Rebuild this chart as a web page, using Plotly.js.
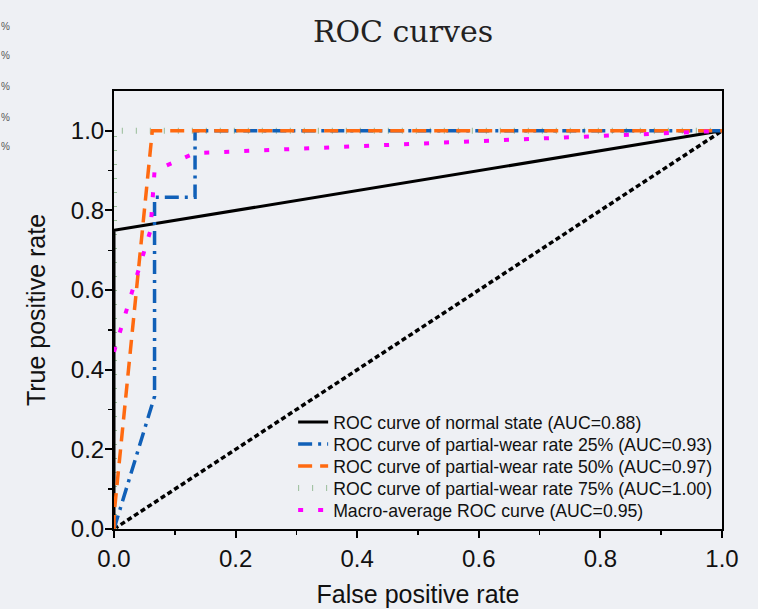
<!DOCTYPE html>
<html>
<head>
<meta charset="utf-8">
<script src="https://cdn.plot.ly/plotly-3.0.1.min.js"></script>
<style>html,body{margin:0;padding:0;background:#eef0f4;}#chart{width:758px;height:609px;}</style>
</head>
<body>
<div id="chart"></div>
<script>
// Data
const normalX = [0, 0, 1];
const normalY = [0, 0.75, 1];
const wear25X = [0, 0.0667, 0.0667, 0.1333, 0.1333, 1];
const wear25Y = [0, 0.333, 0.833, 0.833, 1, 1];
const wear50X = [0, 0, 0.063, 1];
const wear50Y = [0, 0.035, 1, 1];
const wear75X = [0, 0, 1];
const wear75Y = [0, 1, 1];
const macroX = [0, 0.06, 0.0667, 0.1333, 1];
const macroY = [0.445, 0.75, 0.9, 0.944, 1];
const chanceX = [0, 1];
const chanceY = [0, 1];
const seriesNames = [
  'ROC curve of normal state (AUC=0.88)',
  'ROC curve of partial-wear rate 25% (AUC=0.93)',
  'ROC curve of partial-wear rate 50% (AUC=0.97)',
  'ROC curve of partial-wear rate 75% (AUC=1.00)',
  'Macro-average ROC curve (AUC=0.95)'
];
const tickVals = [0, 0.2, 0.4, 0.6, 0.8, 1.0];
const tickText = ['0.0', '0.2', '0.4', '0.6', '0.8', '1.0'];
const minorVals = [0.1, 0.3, 0.5, 0.7, 0.9];

const traces = [
  {x: chanceX, y: chanceY, mode: 'lines', showlegend: false, hoverinfo: 'skip',
   line: {color: '#000000', width: 3.5, dash: '5px,3px'}},
  {x: wear75X, y: wear75Y, mode: 'lines', name: seriesNames[3], legendrank: 4,
   line: {color: '#98bc98', width: 6, dash: '1px,13px'}},
  {x: normalX, y: normalY, mode: 'lines', name: seriesNames[0], legendrank: 1,
   line: {color: '#000000', width: 3}},
  {x: wear25X, y: wear25Y, mode: 'lines', name: seriesNames[1], legendrank: 2,
   line: {color: '#1060b8', width: 3.5, dash: '14px,6px,3px,6px'}},
  {x: wear50X, y: wear50Y, mode: 'lines', name: seriesNames[2], legendrank: 3,
   line: {color: '#ff6a10', width: 3.5, dash: '14px,8px'}},
  {x: macroX, y: macroY, mode: 'lines', name: seriesNames[4], legendrank: 5,
   line: {color: '#ff00ff', width: 4, dash: '5px,15px'}}
];

const axisFont = {family: 'Liberation Sans, Arial, sans-serif', size: 24, color: '#111'};
const titleFont = {family: 'Liberation Sans, Arial, sans-serif', size: 25, color: '#111'};

const strayAnn = [27, 56, 87, 117, 146].map(function (py) {
  return {xref: 'paper', yref: 'paper', x: (5 - 114) / 608, y: (528 - py) / 437,
          text: '%', showarrow: false, xanchor: 'center', yanchor: 'middle',
          font: {family: 'Liberation Sans, Arial, sans-serif', size: 10, color: '#555'}};
});

const layout = {
  width: 758, height: 609,
  paper_bgcolor: '#eef0f4', plot_bgcolor: '#eef0f4',
  margin: {l: 114, r: 36, t: 91, b: 80},
  title: {text: 'ROC curves', font: {family: 'DejaVu Serif, serif', size: 30, color: '#222'},
          x: 403 / 758, xanchor: 'center', xref: 'container',
          y: 1 - 31 / 609, yanchor: 'middle', yref: 'container'},
  xaxis: {range: [0, 1], tickvals: tickVals, ticktext: tickText,
          showgrid: false, zeroline: false, showline: true, mirror: true,
          linecolor: '#000', linewidth: 2, ticks: 'outside', ticklen: 7, tickwidth: 2, tickcolor: '#000',
          minor: {tickvals: minorVals, ticks: 'outside', ticklen: 4, tickwidth: 1.5, tickcolor: '#000', showgrid: false},
          tickfont: axisFont,
          title: {text: 'False positive rate', font: titleFont, standoff: 15}},
  yaxis: {range: [0, 1.1], tickvals: tickVals, ticktext: tickText,
          showgrid: false, zeroline: false, showline: true, mirror: true,
          linecolor: '#000', linewidth: 2, ticks: 'outside', ticklen: 7, tickwidth: 2, tickcolor: '#000',
          minor: {tickvals: minorVals, ticks: 'outside', ticklen: 4, tickwidth: 1.5, tickcolor: '#000', showgrid: false},
          tickfont: axisFont, ticklabelstandoff: -4,
          title: {text: 'True positive rate', font: titleFont, standoff: 18}},
  legend: {x: 0.992, xanchor: 'right', y: 0, yanchor: 'bottom',
           bgcolor: 'rgba(0,0,0,0)', borderwidth: 0,
           font: {family: 'Liberation Sans, Arial, sans-serif', size: 17.7, color: '#111'},
           traceorder: 'normal', tracegroupgap: 0},
  annotations: strayAnn,
  showlegend: true
};

Plotly.newPlot('chart', traces, layout, {displayModeBar: false, staticPlot: true}).then(function (gd) {
  // tighten legend row spacing to match the reference (about 22px per row)
  const items = Array.prototype.slice.call(gd.querySelectorAll('.legend .traces'));
  const parse = function (el) {
    const m = /translate\(\s*([-\d.]+)[ ,]+([-\d.]+)\s*\)/.exec(el.getAttribute('transform') || '');
    return m ? [parseFloat(m[1]), parseFloat(m[2])] : [0, 0];
  };
  if (items.length > 1) {
    const last = parse(items[items.length - 1]);
    items.forEach(function (el, i) {
      const p = parse(el);
      el.setAttribute('transform', 'translate(' + p[0] + ',' + (last[1] - (items.length - 1 - i) * 22) + ')');
    });
  }
});
</script>
</body>
</html>
